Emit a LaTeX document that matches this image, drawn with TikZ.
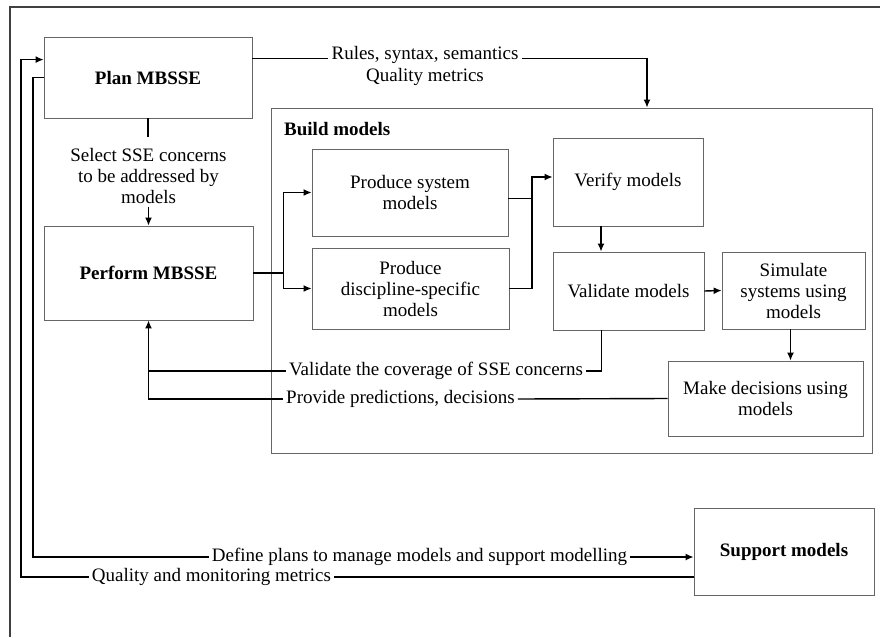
\documentclass[tikz,border=0pt]{standalone}
\usepackage{fontspec}
\setmainfont{Liberation Serif}
\usetikzlibrary{positioning,arrows.meta}

\tikzset{
  box/.style={draw=black!60, line width=0.8pt, align=center, inner sep=0pt,
    font=\fontsize{19}{21}\selectfont},
  boldbox/.style={box, font=\fontsize{19}{21}\selectfont\bfseries},
  lbl/.style={align=center, inner sep=3pt, font=\fontsize{19}{21}\selectfont},
  flow/.style={line width=1.4pt, -{Latex[length=8pt,width=7pt]}},
  link/.style={line width=1.4pt},
}

\begin{document}
\begin{tikzpicture}[x=1pt,y=-1pt]

\useasboundingbox (0,0) rectangle (880,637);

% frame
\draw[line width=1.3pt, black!75]
(10,637)
--
(10,7)
--
(880,7);

% boxes
\node[boldbox, minimum width=208, minimum height=81] (plan) at (148,77.5)
{Plan MBSSE};

\node[boldbox, minimum width=209, minimum height=94] (perform) at (148.5,273)
{Perform MBSSE};

\node[box, minimum width=601, minimum height=345] (build) at (571.5,280.5)
{};
\node[lbl, font=\fontsize{19}{21}\selectfont\bfseries, anchor=west] (buildlbl) at (281,129)
{Build models};

\node[box, minimum width=196, minimum height=87] (sysm) at (410,192.5)
{Produce system\\models};

\node[box, minimum width=197, minimum height=81] (disc) at (410.5,288.5)
{Produce\\discipline-specific\\models};

\node[box, minimum width=150, minimum height=88] (verify) at (628,182)
{Verify models};

\node[box, minimum width=151, minimum height=78] (validate) at (628.5,291)
{Validate models};

\node[box, minimum width=143, minimum height=77] (simulate) at (793.5,290.5)
{Simulate\\systems using\\models};

\node[box, minimum width=195, minimum height=75] (decide) at (765.5,398.5)
{Make decisions using\\models};

\node[boldbox, minimum width=180, minimum height=87] (support) at (784,551.5)
{Support models};

% labels
\node[lbl] (select) at (148.5,176)
{Select SSE concerns\\to be addressed by\\models};

\node[lbl] (rules) at (425,55)
{Rules, syntax, semantics};
\node[lbl] (qmetrics) at (425,77)
{Quality metrics};

\node[lbl] (cov) at (436,371)
{Validate the coverage of SSE concerns};

\node[lbl, anchor=west] (prov) at (283,399)
{Provide predictions, decisions};

\node[lbl] (define) at (419.5,557)
{Define plans to manage models and support modelling};

\node[lbl] (quality) at (211.5,577)
{Quality and monitoring metrics};

\coordinate (jn) at (532,0);
\coordinate (lx1) at (21,0);
\coordinate (lx2) at (33,0);

% connectors
\draw[link] ([yshift=-22pt]plan.north east) -- ([yshift=-22pt]plan.north east -| rules.west);
\draw[flow] ([yshift=-22pt]plan.north east -| rules.east) -| ([xshift=75.5pt]build.north);

\draw[link] (plan.south) -- ([yshift=-19pt]plan.south);
\draw[flow] ([yshift=19pt]perform.north) -- (perform.north);

\draw[flow] (perform.east) -- ([xshift=30pt]perform.east) |- (sysm.west);
\draw[flow] ([xshift=30pt]perform.east) |- (disc.west);

\draw[link] ([yshift=-6pt]sysm.east) -- ([yshift=-6pt]sysm.east -| jn);
\draw[flow] (disc.east) -- (disc.east -| jn) |- ([yshift=5pt]verify.west);

\draw[flow] ([xshift=-27pt]verify.south) -- ([xshift=-27pt]verify.south |- validate.north);
\draw[flow] (validate.east) -- (simulate.west);
\draw[flow] ([xshift=-3pt]simulate.south) -- ([xshift=-3pt]simulate.south |- decide.north);

\draw[link] ([xshift=-27pt]validate.south) |- (cov.east);
\draw[flow] (cov.west) -| (perform.south);
\draw[link] (decide.west) -- (prov.east);
\draw[link] (prov.west) -| (cov.west -| perform.south);

\draw[link] ([yshift=-41pt]plan.north west) -| (lx2 |- define.west) -- (define.west);
\draw[flow] (define.east) -- (define.east -| support.west);

\draw[link] (quality.east -| support.west) -- (quality.east);
\draw[flow] (quality.west) -- (quality.west -| lx1) |- ([yshift=-23pt]plan.north west);

\end{tikzpicture}
\end{document}
